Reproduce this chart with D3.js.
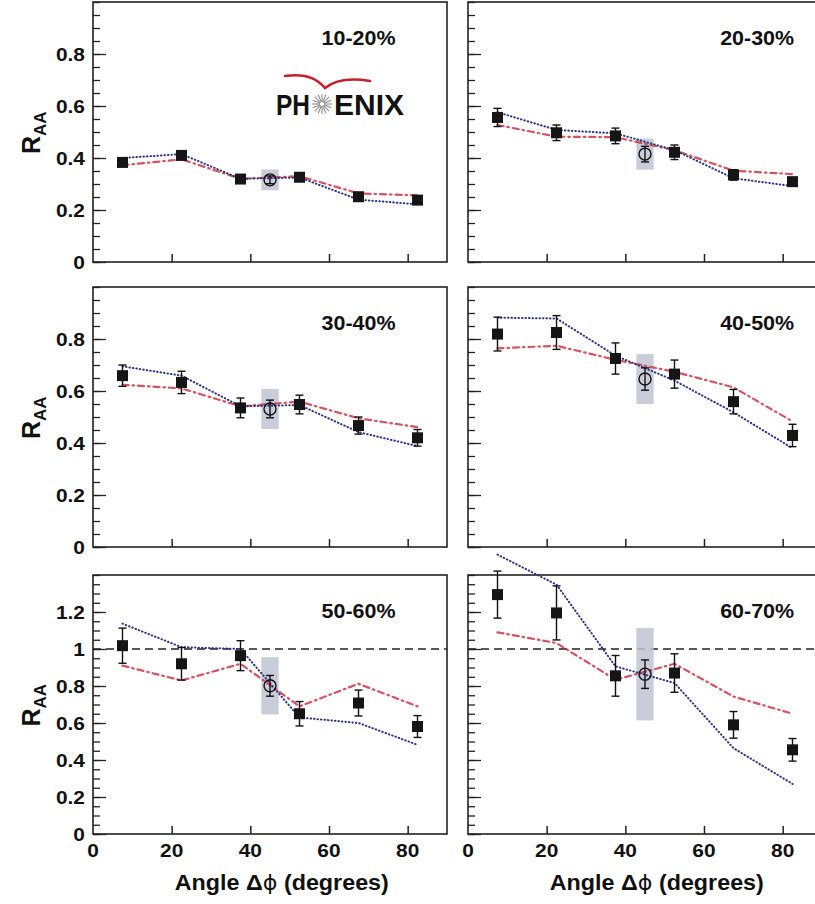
<!DOCTYPE html>
<html>
<head>
<meta charset="utf-8">
<script src="https://cdn.jsdelivr.net/npm/d3@7"></script>
<style>
  html, body { margin: 0; padding: 0; background: #fff; }
  svg { display: block; }
  text { font-family: "Liberation Sans", Arial, Helvetica, sans-serif; font-weight: bold; fill: #111; }
</style>
</head>
<body>
<svg id="chart" width="815" height="904"></svg>
<script>
// Azimuthal-angle dependence of the nuclear modification factor, per centrality class
const angles = [7.5, 22.5, 37.5, 52.5, 67.5, 82.5];
const centralities = ["10-20%", "20-30%", "30-40%", "40-50%", "50-60%", "60-70%"];

// measured R_AA per angular bin (filled squares) and statistical errors
const raa = [
  [0.383, 0.410, 0.319, 0.326, 0.251, 0.238],
  [0.556, 0.497, 0.485, 0.422, 0.335, 0.309],
  [0.659, 0.633, 0.535, 0.548, 0.467, 0.420],
  [0.819, 0.825, 0.725, 0.665, 0.559, 0.429],
  [1.018, 0.920, 0.964, 0.650, 0.708, 0.581],
  [1.294, 1.195, 0.855, 0.870, 0.590, 0.455]
];
const raaErr = [
  [0.015, 0.012, 0.012, 0.012, 0.010, 0.010],
  [0.035, 0.030, 0.030, 0.028, 0.020, 0.015],
  [0.041, 0.043, 0.038, 0.036, 0.033, 0.032],
  [0.065, 0.065, 0.060, 0.054, 0.047, 0.043],
  [0.095, 0.088, 0.081, 0.066, 0.070, 0.059],
  [0.127, 0.146, 0.110, 0.104, 0.072, 0.061]
];

// angle-integrated R_AA (open circle at 45 deg) with stat and syst errors
const inclusiveAngle = 45;
const inclusive = [0.316, 0.415, 0.531, 0.646, 0.801, 0.864];
const inclusiveErr = [0.015, 0.030, 0.034, 0.043, 0.056, 0.077];
const inclusiveSys = [0.040, 0.060, 0.077, 0.096, 0.155, 0.250];

// model curves
const modelDotted = [
  [0.400, 0.415, 0.320, 0.325, 0.240, 0.222],
  [0.576, 0.508, 0.495, 0.430, 0.322, 0.292],
  [0.695, 0.659, 0.541, 0.546, 0.442, 0.388],
  [0.882, 0.879, 0.736, 0.640, 0.518, 0.380],
  [1.137, 1.010, 1.000, 0.630, 0.600, 0.482],
  [1.510, 1.348, 0.906, 0.816, 0.464, 0.271]
];
const modelDashDot = [
  [0.372, 0.395, 0.320, 0.330, 0.264, 0.256],
  [0.527, 0.482, 0.480, 0.430, 0.351, 0.338],
  [0.624, 0.610, 0.541, 0.559, 0.495, 0.461],
  [0.764, 0.774, 0.720, 0.674, 0.614, 0.483],
  [0.910, 0.830, 0.920, 0.690, 0.812, 0.690],
  [1.090, 1.032, 0.834, 0.920, 0.743, 0.650]
];

const xTicks = [0, 20, 40, 60, 80];
const yTicksLow = [0, 0.2, 0.4, 0.6, 0.8];
const yTicksHigh = [0, 0.2, 0.4, 0.6, 0.8, 1, 1.2];
const yMaxByRow = [1.0, 1.0, 1.4];
const xLabelParts = ["Angle \u0394", "\u03d5", " (degrees)"];

const svg = d3.select("#chart");
const colLeft = [93, 468];
const panelW = 354;
const rowTop = [2, 287, 575];
const rowBottom = [262, 547, 834];
const labelAngle = [67.5, 73.5];
const sx = 1.1; // horizontal widening of the lettering

const fmt = v => (v === 0 ? "0" : (Math.abs(v - 1) < 1e-9 ? "1" : d3.format(".1f")(v)));

const blue = "#2b3585";
const red = "#cf3446";

for (let p = 0; p < 6; p++) {
  const row = Math.floor(p / 2), col = p % 2;
  const x0 = colLeft[col];
  const x = d3.scaleLinear().domain([0, 90]).range([x0, x0 + panelW]);
  const y = d3.scaleLinear().domain([0, yMaxByRow[row]]).range([rowBottom[row], rowTop[row]]);
  const g = svg.append("g");

  // frame
  g.append("rect")
    .attr("x", x(0)).attr("y", y(yMaxByRow[row]))
    .attr("width", x(90) - x(0)).attr("height", y(0) - y(yMaxByRow[row]))
    .attr("fill", "none").attr("stroke", "#222").attr("stroke-width", 1.6);

  // y ticks (major + minor) on the inner side of the left axis
  const majors = row === 2 ? yTicksHigh : yTicksLow;
  const minors = d3.range(0, yMaxByRow[row] + 1e-9, 0.05);
  g.append("g")
    .attr("transform", `translate(${x(0)},0)`)
    .call(d3.axisRight(y).tickValues(minors).tickSize(7).tickFormat(""))
    .call(a => a.select(".domain").remove())
    .call(a => a.selectAll("line").attr("stroke", "#222").attr("stroke-width", 1.3));
  g.append("g")
    .attr("transform", `translate(${x(0)},0)`)
    .call(d3.axisRight(y).tickValues(majors).tickSize(13).tickFormat(""))
    .call(a => a.select(".domain").remove())
    .call(a => a.selectAll("line").attr("stroke", "#222").attr("stroke-width", 1.3));

  // x ticks pointing up from the bottom axis
  g.append("g")
    .attr("transform", `translate(0,${y(0)})`)
    .call(d3.axisTop(x).tickValues(xTicks.filter(t => t > 0)).tickSize(8).tickFormat(""))
    .call(a => a.select(".domain").remove())
    .call(a => a.selectAll("line").attr("stroke", "#222").attr("stroke-width", 1.5));

  // y tick labels on left column
  if (col === 0) {
    majors.forEach(v => {
      g.append("text")
        .attr("transform", `translate(85,${y(v) + 7}) scale(${sx},1)`)
        .attr("text-anchor", "end").attr("font-size", 19)
        .text(fmt(v));
    });
    // axis title R_AA
    const t = g.append("text")
      .attr("transform", `translate(40,${(y(0) + y(yMaxByRow[row])) / 2 + 22}) rotate(-90)`)
      .attr("font-size", 25);
    t.append("tspan").text("R");
    t.append("tspan").attr("font-size", 17).attr("dy", 6).text("AA");
  }

  // x tick labels & title on bottom row
  if (row === 2) {
    xTicks.forEach(v => {
      g.append("text")
        .attr("transform", `translate(${x(v)},${y(0) + 23}) scale(${sx},1)`)
        .attr("text-anchor", "middle").attr("font-size", 19)
        .text(v);
    });
    const xt = g.append("text")
      .attr("transform", `translate(${x(48)},${y(0) + 56}) scale(1.06,1)`)
      .attr("text-anchor", "middle").attr("font-size", 22);
    xt.append("tspan").text(xLabelParts[0]);
    xt.append("tspan").attr("font-weight", "normal").attr("font-family", "DejaVu Sans")
      .attr("font-size", 21).text(xLabelParts[1]);
    xt.append("tspan").text(xLabelParts[2]);
    // unity reference
    g.append("line")
      .attr("x1", x(0)).attr("x2", x(90)).attr("y1", y(1)).attr("y2", y(1))
      .attr("stroke", "#222").attr("stroke-width", 1.3).attr("stroke-dasharray", "8,5");
  }

  // systematic band of the angle-integrated point
  g.append("rect")
    .attr("x", x(inclusiveAngle - 2.2)).attr("width", x(inclusiveAngle + 2.2) - x(inclusiveAngle - 2.2))
    .attr("y", y(inclusive[p] + inclusiveSys[p]))
    .attr("height", y(inclusive[p] - inclusiveSys[p]) - y(inclusive[p] + inclusiveSys[p]))
    .attr("fill", "#bfc4d2").attr("opacity", 0.85);

  // model curves
  const line = d3.line().x((d, i) => x(angles[i])).y(d => y(d));
  g.append("path").datum(modelDashDot[p]).attr("d", line)
    .attr("fill", "none").attr("stroke", red).attr("stroke-width", 2.2)
    .attr("stroke-dasharray", "6,4,1.5,4").attr("stroke-linecap", "round").attr("opacity", 0.85);
  g.append("path").datum(modelDotted[p]).attr("d", line)
    .attr("fill", "none").attr("stroke", blue).attr("stroke-width", 2)
    .attr("stroke-dasharray", "0.5,3").attr("stroke-linecap", "round");

  // measured points with error bars
  const pts = raa[p].map((v, i) => ({ a: angles[i], v, e: raaErr[p][i] }));
  const eb = g.append("g").attr("stroke", "#111").attr("stroke-width", 1.4);
  pts.forEach(d => {
    eb.append("line").attr("x1", x(d.a)).attr("x2", x(d.a)).attr("y1", y(d.v - d.e)).attr("y2", y(d.v + d.e));
    [d.v - d.e, d.v + d.e].forEach(v =>
      eb.append("line").attr("x1", x(d.a) - 4).attr("x2", x(d.a) + 4).attr("y1", y(v)).attr("y2", y(v)));
  });
  g.selectAll("rect.pt").data(pts).join("rect").attr("class", "pt")
    .attr("x", d => x(d.a) - 5.5).attr("y", d => y(d.v) - 5.5)
    .attr("width", 11).attr("height", 11).attr("fill", "#151515");

  // angle-integrated point
  const ci = inclusive[p], ce = inclusiveErr[p];
  eb.append("line").attr("x1", x(inclusiveAngle)).attr("x2", x(inclusiveAngle)).attr("y1", y(ci - ce)).attr("y2", y(ci + ce));
  [ci - ce, ci + ce].forEach(v =>
    eb.append("line").attr("x1", x(inclusiveAngle) - 4).attr("x2", x(inclusiveAngle) + 4).attr("y1", y(v)).attr("y2", y(v)));
  g.append("circle").attr("cx", x(inclusiveAngle)).attr("cy", y(ci)).attr("r", 6)
    .attr("fill", "none").attr("stroke", "#111").attr("stroke-width", 1.4);

  // centrality label
  g.append("text")
    .attr("transform", `translate(${x(labelAngle[col])},${y(yMaxByRow[row]) + 43}) scale(${sx},1)`)
    .attr("text-anchor", "middle").attr("font-size", 19.5)
    .text(centralities[p]);
}

// experiment logo in the first panel
const logo = svg.append("g");
logo.append("path")
  .attr("d", "M285,76 Q312,72 325,88 Q340,76 370,81")
  .attr("fill", "none").attr("stroke", "#c81f2a").attr("stroke-width", 2.6).attr("stroke-linecap", "round");
logo.append("text").attr("x", 276).attr("y", 115).attr("font-size", 29).attr("textLength", 34)
  .attr("lengthAdjust", "spacingAndGlyphs").text("PH");
logo.append("text").attr("x", 334).attr("y", 115).attr("font-size", 29).attr("textLength", 70)
  .attr("lengthAdjust", "spacingAndGlyphs").text("ENIX");
const star = logo.append("g").attr("transform", "translate(322,104)");
d3.range(16).forEach(k => {
  const ang = k * Math.PI / 8;
  star.append("line").attr("x1", 2 * Math.cos(ang)).attr("y1", 2 * Math.sin(ang))
    .attr("x2", 10 * Math.cos(ang)).attr("y2", 10 * Math.sin(ang))
    .attr("stroke", "#8a8a8a").attr("stroke-width", 1.1);
});
</script>
</body>
</html>
